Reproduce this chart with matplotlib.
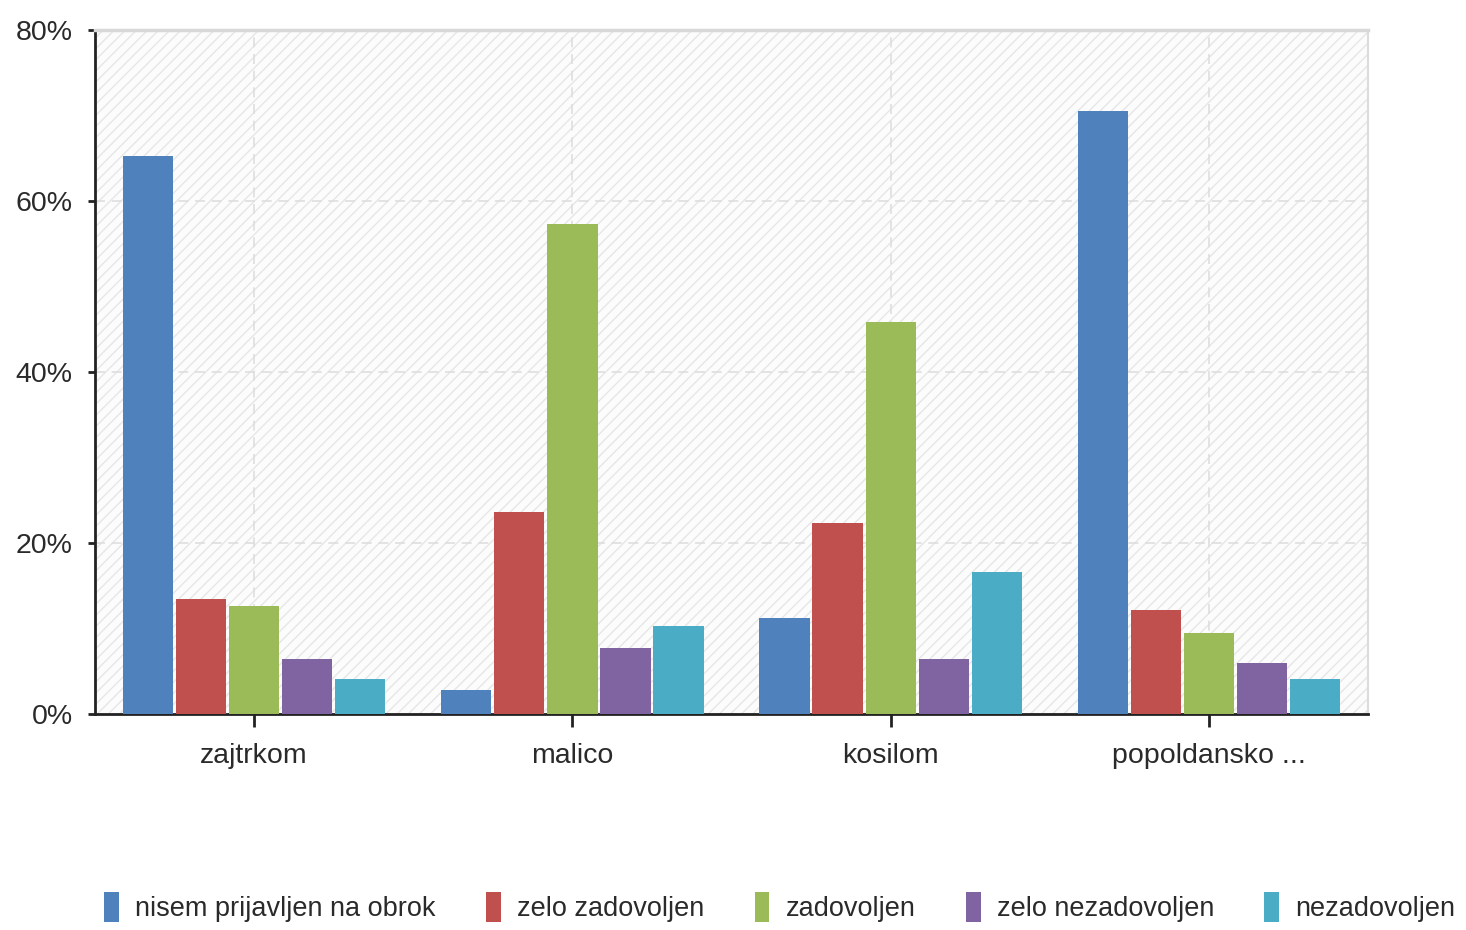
import matplotlib.pyplot as plt
from matplotlib.patches import Patch, Rectangle
from matplotlib.ticker import FuncFormatter
import numpy as np

categories = ["zajtrkom", "malico", "kosilom", "popoldansko ..."]
series_names = [
    "nisem prijavljen na obrok",
    "zelo zadovoljen",
    "zadovoljen",
    "zelo nezadovoljen",
    "nezadovoljen",
]
nisem_prijavljen = [65.3, 2.8, 11.2, 70.5]
zelo_zadovoljen = [13.5, 23.6, 22.3, 12.2]
zadovoljen = [12.6, 57.3, 45.8, 9.5]
zelo_nezadovoljen = [6.4, 7.7, 6.4, 6.0]
nezadovoljen = [4.1, 10.3, 16.6, 4.1]
y_ticks = [0, 20, 40, 60, 80]

colors = ["#4F81BD", "#C0504D", "#9BBB59", "#8064A2", "#4BACC6"]
plt.rcParams["font.family"] = ["Liberation Sans", "DejaVu Sans"]

fig = plt.figure(figsize=(14.66, 9.3), dpi=100)
ax = fig.add_axes([0.0648, 0.232, 0.8684, 0.736])

# hatched plot background
ax.set_facecolor("#fcfcfc")
ax.add_patch(Rectangle((0, 0), 1, 1, transform=ax.transAxes, facecolor="none",
                       edgecolor="#e6e6e6", hatch="///", linewidth=0, zorder=0))

all_series = [nisem_prijavljen, zelo_zadovoljen, zadovoljen, zelo_nezadovoljen, nezadovoljen]
x = np.arange(len(categories))
pitch = 0.1667
width = 0.158
for i, (vals, col) in enumerate(zip(all_series, colors)):
    offs = (i - 2) * pitch
    ax.bar(x + offs, vals, width=width, color=col, zorder=3, linewidth=0)

ax.set_xlim(-0.5, len(categories) - 0.5)
ax.set_ylim(0, 80)
ax.set_yticks(y_ticks)
ax.yaxis.set_major_formatter(FuncFormatter(lambda v, _: f"{v:.0f}%"))
ax.set_xticks(x)
ax.set_xticklabels(categories)

ax.grid(True, linestyle=(0, (6, 4)), color="#dedede", linewidth=1.2, zorder=1)
ax.set_axisbelow(True)

for side in ("left", "bottom"):
    ax.spines[side].set_color("#222222")
    ax.spines[side].set_linewidth(2)
ax.spines["top"].set_color("#d8d8d8")
ax.spines["top"].set_linewidth(2.5)
ax.spines["right"].set_color("#dcdcdc")
ax.spines["right"].set_linewidth(1.5)

ax.tick_params(axis="y", length=5, width=2, color="#222222", pad=11,
               labelsize=20.5, labelcolor="#2a2a2a")
ax.tick_params(axis="x", length=9, width=2, color="#222222", pad=12,
               labelsize=20.5, labelcolor="#2a2a2a")

handles = [Patch(facecolor=c, edgecolor="none") for c in colors]
fig.legend(handles, series_names, loc="center", bbox_to_anchor=(0.532, 1 - 907 / 930),
           ncol=5, frameon=False, fontsize=19.5, handlelength=0.55, handleheight=1.35,
           handletextpad=0.6, columnspacing=1.85, labelcolor="#2a2a2a")

fig.savefig("out.png", dpi=100)
